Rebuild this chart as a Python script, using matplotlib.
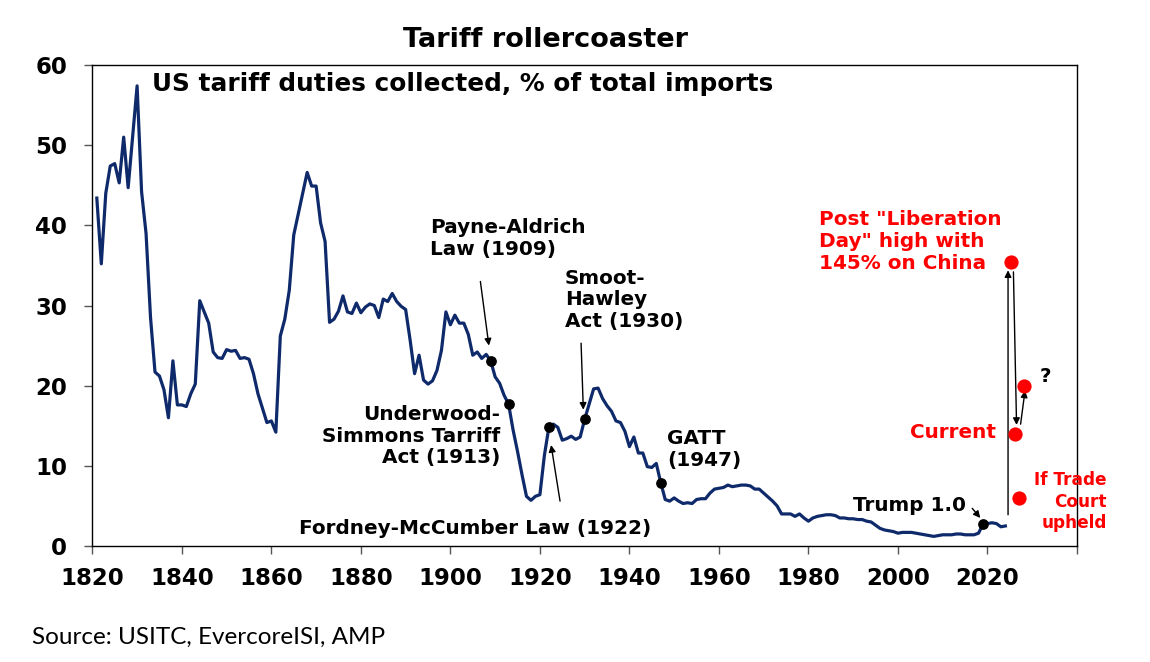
import numpy as np
import matplotlib
matplotlib.use("Agg")
import matplotlib.pyplot as plt

# US tariff duties collected, % of total imports
years = np.arange(1821, 2025)
duties = [
    43.4, 35.2, 44.0, 47.4, 47.7, 45.3, 51.0, 44.7, 51.0, 57.4,  # 1821-1830
    44.2, 39.0, 28.5, 21.7, 21.2, 19.5, 16.0, 23.1, 17.6, 17.6,  # 1831-1840
    17.4, 19.0, 20.2, 30.6, 29.2, 27.8, 24.2, 23.5, 23.4, 24.5,  # 1841-1850
    24.3, 24.4, 23.4, 23.5, 23.3, 21.5, 19.0, 17.2, 15.4, 15.6,  # 1851-1860
    14.2, 26.2, 28.3, 31.9, 38.8, 41.4, 44.0, 46.6, 44.9, 44.9,  # 1861-1870
    40.3, 38.0, 27.9, 28.3, 29.3, 31.2, 29.2, 29.0, 30.3, 29.1,  # 1871-1880
    29.8, 30.2, 30.0, 28.5, 30.8, 30.5, 31.5, 30.5, 29.9, 29.5,  # 1881-1890
    25.7, 21.5, 23.8, 20.7, 20.2, 20.6, 21.9, 24.4, 29.2, 27.6,  # 1891-1900
    28.8, 27.8, 27.8, 26.4, 23.8, 24.2, 23.4, 23.9, 23.1, 21.1,  # 1901-1910
    20.3, 18.8, 17.7, 14.5, 11.8, 8.9, 6.2, 5.7, 6.2, 6.4,      # 1911-1920
    11.3, 14.8, 15.2, 14.8, 13.2, 13.4, 13.7, 13.3, 13.6, 15.8,  # 1921-1930
    17.7, 19.6, 19.7, 18.4, 17.5, 16.8, 15.6, 15.4, 14.3, 12.4,  # 1931-1940
    13.6, 11.6, 11.6, 9.9, 9.8, 10.3, 7.9, 5.8, 5.6, 6.0,        # 1941-1950
    5.6, 5.3, 5.4, 5.3, 5.8, 5.9, 5.9, 6.6, 7.1, 7.2,            # 1951-1960
    7.3, 7.6, 7.4, 7.5, 7.6, 7.6, 7.5, 7.1, 7.1, 6.6,            # 1961-1970
    6.1, 5.6, 5.0, 4.0, 4.0, 4.0, 3.7, 4.0, 3.5, 3.1,            # 1971-1980
    3.5, 3.7, 3.8, 3.9, 3.9, 3.8, 3.5, 3.5, 3.4, 3.4,            # 1981-1990
    3.3, 3.3, 3.1, 3.0, 2.6, 2.2, 2.0, 1.9, 1.8, 1.6,            # 1991-2000
    1.7, 1.7, 1.7, 1.6, 1.5, 1.4, 1.3, 1.2, 1.3, 1.4,            # 2001-2010
    1.4, 1.4, 1.5, 1.5, 1.4, 1.4, 1.4, 1.6, 2.7, 2.8,            # 2011-2020
    2.9, 2.8, 2.4, 2.5,                                          # 2021-2024
]

# key tariff events marked with black dots
event_years = [1909, 1913, 1922, 1930, 1947, 2019]

# scenario points (red)
scen_x = [2025.2, 2026.1, 2028.1, 2027.1]
scen_y = [35.4, 14.0, 20.0, 6.0]

xticks = list(range(1820, 2041, 20))
xlabels = [str(y) for y in range(1820, 2021, 20)] + [""]
yticks = [0, 10, 20, 30, 40, 50, 60]

navy = "#0f2a6b"
red = "#ff0000"
plt.rcParams["font.family"] = ["DejaVu Sans"]

fig = plt.figure(figsize=(11.5, 6.62), dpi=100)
ax = fig.add_axes([0.0803, 0.1752, 0.8562, 0.7266])

ax.plot(years, duties, color=navy, lw=2.3, solid_joinstyle="round", zorder=3)
ev_vals = [duties[y - 1821] for y in event_years]
ax.scatter(event_years, ev_vals, s=45, color="black", zorder=4)
ax.scatter(scen_x, scen_y, s=105, color=red, zorder=4, linewidths=0)

ax.set_xlim(1820, 2040)
ax.set_ylim(0, 60)
ax.set_xticks(xticks)
ax.set_xticklabels(xlabels)
ax.set_yticks(yticks)
ax.tick_params(axis="both", labelsize=16.5, direction="out", length=6,
               width=1, color="#555555")
ax.tick_params(axis="y", pad=12)
ax.tick_params(axis="x", pad=9)
for lab in ax.get_xticklabels() + ax.get_yticklabels():
    lab.set_fontweight("bold")
for sp in ax.spines.values():
    sp.set_color("black")
    sp.set_linewidth(1)

fig.text(0.474, 0.94, "Tariff rollercoaster", ha="center", va="center",
         fontsize=19.5, fontweight="bold")
ax.text(1833.4, 57.6, "US tariff duties collected, % of total imports",
        ha="left", va="center", fontsize=17.8, fontweight="bold")

bold = dict(fontsize=14.4, fontweight="bold", color="black", linespacing=1.18)
ax.text(1895.5, 40.9, "Payne-Aldrich\nLaw (1909)", ha="left", va="top", **bold)
ax.text(1925.6, 34.6, "Smoot-\nHawley\nAct (1930)", ha="left", va="top", **bold)
ax.text(1911.1, 17.6, "Underwood-\nSimmons Tarriff\nAct (1913)", ha="right",
        va="top", multialignment="right", **bold)
ax.text(1948.4, 14.6, "GATT\n(1947)", ha="left", va="top", **bold)
ax.text(1866.2, 2.2, "Fordney-McCumber Law (1922)", ha="left", va="center", **bold)
ax.text(1990.0, 5.1, "Trump 1.0", ha="left", va="center", **bold)
ax.text(2031.6, 21.2, "?", ha="left", va="center", **bold)

redtxt = dict(fontsize=14.4, fontweight="bold", color=red, linespacing=1.18)
ax.text(1982.4, 41.9, 'Post "Liberation\nDay" high with\n145% on China',
        ha="left", va="top", **redtxt)
ax.text(2022.0, 14.2, "Current", ha="right", va="center", **redtxt)
ax.text(2046.6, 9.3, "If Trade\nCourt\nupheld", ha="right", va="top",
        multialignment="right", fontsize=12.2, fontweight="bold", color=red,
        linespacing=1.25, clip_on=False)

arr = dict(arrowstyle="-|>", color="black", lw=1, mutation_scale=10,
           shrinkA=0, shrinkB=0)
ax.annotate("", xy=(1908.6, 25.0), xytext=(1906.7, 33.0), arrowprops=arr)
ax.annotate("", xy=(1922.5, 12.6), xytext=(1924.5, 5.6), arrowprops=arr)
ax.annotate("", xy=(1929.7, 17.0), xytext=(1929.2, 25.3), arrowprops=arr)
ax.annotate("", xy=(2018.4, 3.5), xytext=(2016.6, 4.7), arrowprops=arr)
ax.annotate("", xy=(2024.6, 34.4), xytext=(2024.6, 3.9), arrowprops=arr)
ax.annotate("", xy=(2026.5, 15.1), xytext=(2025.8, 34.2), arrowprops=arr)
ax.annotate("", xy=(2028.4, 19.4), xytext=(2027.4, 15.2), arrowprops=arr)

fig.text(0.028, 0.038, "Source: USITC, EvercoreISI, AMP", ha="left",
         va="center", fontsize=17.5, family=["Lato", "DejaVu Sans"])

fig.savefig("out.png", dpi=100)
